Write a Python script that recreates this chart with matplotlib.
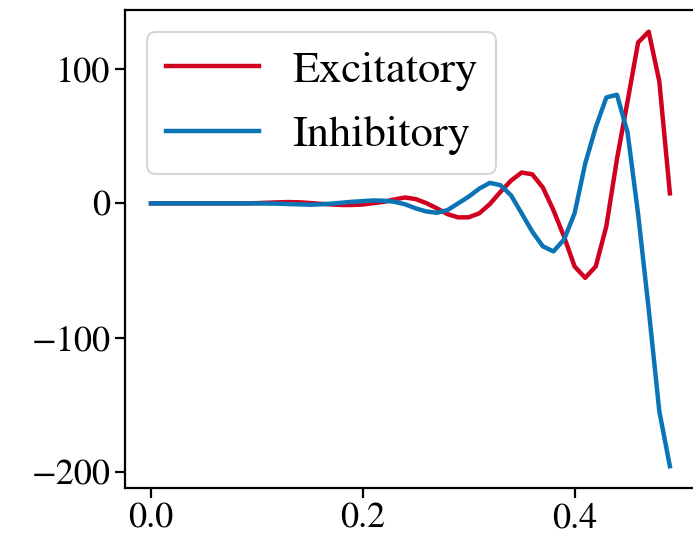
import matplotlib
matplotlib.use("Agg")
import matplotlib.pyplot as plt
import numpy as np

plt.rcParams["font.family"] = ["STIXGeneral", "Liberation Serif", "DejaVu Serif"]
plt.rcParams["mathtext.fontset"] = "stix"

# time axis (50 samples, step 0.01)
t = np.arange(50) * 0.01

excitatory = [0, 0, 0, 0, 0, 0, 0, 0, 0, 0,
              0.2, 0.5, 0.8, 1.0, 0.8, 0.3, -0.3, -0.8, -1.2, -1.2,
              -0.8, 0.2, 1.2, 3.0, 4.4, 3.2, 0.2, -3.7, -8.0, -10.4,
              -10.4, -7.4, -0.5, 8.6, 17.0, 23.0, 21.7, 11.9, -5.0, -24.7,
              -47.0, -55.5, -47.0, -17.0, 33.0, 76.0, 120.0, 128.0, 91.0, 7.5]
inhibitory = [0, 0, 0, 0, 0, 0, 0, 0, 0, 0,
              0, -0.1, -0.2, -0.5, -0.7, -1.0, -0.7, -0.2, 0.5, 1.2,
              1.7, 2.2, 2.0, 1.2, -0.7, -3.7, -6.0, -7.0, -5.0, 0.0,
              5.0, 11.0, 15.3, 13.6, 6.0, -7.4, -21.0, -32.0, -35.8, -27.0,
              -7.4, 29.6, 56.8, 79.0, 81.0, 53.0, -8.0, -79.0, -155.0, -196.0]

RED = "#d1001f"
BLUE = "#0a74b4"

fig = plt.figure(figsize=(6.93, 5.43), dpi=100)
ax = fig.add_axes([0.1804, 0.1013, 0.8237, 0.8803])

ax.plot(t, excitatory, color=RED, lw=3.2, label="Excitatory")
ax.plot(t, inhibitory, color=BLUE, lw=3.2, label="Inhibitory")

ax.set_xticks([0.0, 0.2, 0.4])
ax.set_yticks([100, 0, -100, -200])
ax.tick_params(labelsize=26, width=1.6, length=7)
for s in ax.spines.values():
    s.set_linewidth(1.6)

leg = ax.legend(loc="upper left", fontsize=32, handlelength=2.1,
                borderpad=0.42, labelspacing=0.55, handletextpad=0.75,
                borderaxespad=0.0, bbox_to_anchor=(0.0385, 0.954))
leg.get_frame().set_linewidth(1.5)

fig.savefig("out.png", dpi=100)
